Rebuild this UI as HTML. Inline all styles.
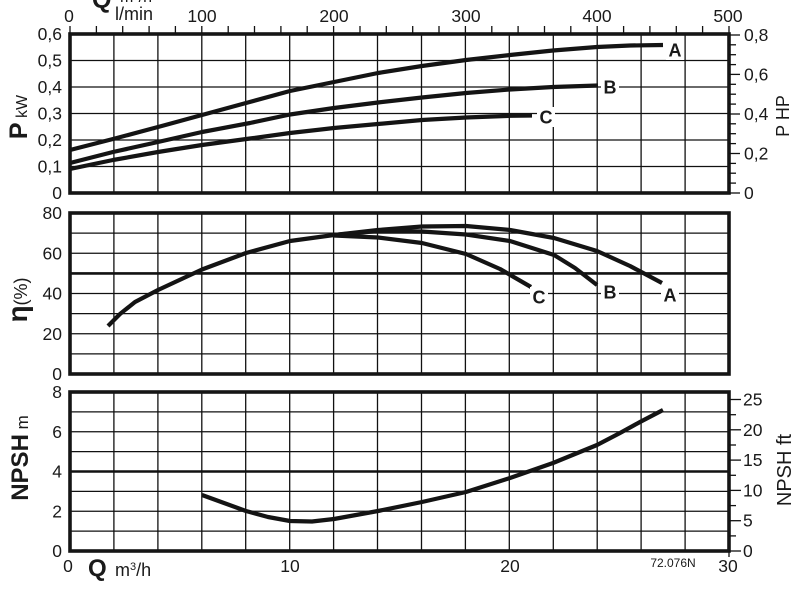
<!DOCTYPE html>
<html>
<head>
<meta charset="utf-8">
<style>
html,body{margin:0;padding:0;background:#fff;}
svg{display:block;}
text{font-family:"Liberation Sans",Arial,sans-serif;fill:#1a1a1a;}
.t{font-size:17.5px;}
.lb{font-size:18px;font-weight:bold;}
</style>
</head>
<body>
<svg width="809" height="590" viewBox="0 0 809 590" xmlns="http://www.w3.org/2000/svg">
<rect x="0" y="0" width="809" height="590" fill="#fff"/>

<g stroke="#111" stroke-width="1.3">
  <line x1="113.9" y1="34" x2="113.9" y2="193"/><line x1="157.9" y1="34" x2="157.9" y2="193"/>
  <line x1="201.8" y1="34" x2="201.8" y2="193"/><line x1="245.7" y1="34" x2="245.7" y2="193"/>
  <line x1="289.7" y1="34" x2="289.7" y2="193"/><line x1="333.6" y1="34" x2="333.6" y2="193"/>
  <line x1="377.5" y1="34" x2="377.5" y2="193"/><line x1="421.5" y1="34" x2="421.5" y2="193"/>
  <line x1="465.4" y1="34" x2="465.4" y2="193"/><line x1="509.3" y1="34" x2="509.3" y2="193"/>
  <line x1="553.3" y1="34" x2="553.3" y2="193"/><line x1="597.2" y1="34" x2="597.2" y2="193"/>
  <line x1="641.1" y1="34" x2="641.1" y2="193"/><line x1="685.1" y1="34" x2="685.1" y2="193"/>
  <line x1="70" y1="166.5" x2="729" y2="166.5"/><line x1="70" y1="140" x2="729" y2="140"/>
  <line x1="70" y1="113.5" x2="729" y2="113.5"/><line x1="70" y1="87" x2="729" y2="87"/>
  <line x1="70" y1="60.5" x2="729" y2="60.5"/>

  <line x1="113.9" y1="213" x2="113.9" y2="374"/><line x1="157.9" y1="213" x2="157.9" y2="374"/>
  <line x1="201.8" y1="213" x2="201.8" y2="374"/><line x1="245.7" y1="213" x2="245.7" y2="374"/>
  <line x1="289.7" y1="213" x2="289.7" y2="374"/><line x1="333.6" y1="213" x2="333.6" y2="374"/>
  <line x1="377.5" y1="213" x2="377.5" y2="374"/><line x1="421.5" y1="213" x2="421.5" y2="374"/>
  <line x1="465.4" y1="213" x2="465.4" y2="374"/><line x1="509.3" y1="213" x2="509.3" y2="374"/>
  <line x1="553.3" y1="213" x2="553.3" y2="374"/><line x1="597.2" y1="213" x2="597.2" y2="374"/>
  <line x1="641.1" y1="213" x2="641.1" y2="374"/><line x1="685.1" y1="213" x2="685.1" y2="374"/>
  <line x1="70" y1="353.9" x2="729" y2="353.9"/><line x1="70" y1="333.75" x2="729" y2="333.75"/>
  <line x1="70" y1="313.6" x2="729" y2="313.6"/><line x1="70" y1="293.5" x2="729" y2="293.5"/>
  <line x1="70" y1="253.25" x2="729" y2="253.25"/>
  <line x1="70" y1="233.1" x2="729" y2="233.1"/>

  <line x1="113.9" y1="392" x2="113.9" y2="551"/><line x1="157.9" y1="392" x2="157.9" y2="551"/>
  <line x1="201.8" y1="392" x2="201.8" y2="551"/><line x1="245.7" y1="392" x2="245.7" y2="551"/>
  <line x1="289.7" y1="392" x2="289.7" y2="551"/><line x1="333.6" y1="392" x2="333.6" y2="551"/>
  <line x1="377.5" y1="392" x2="377.5" y2="551"/><line x1="421.5" y1="392" x2="421.5" y2="551"/>
  <line x1="465.4" y1="392" x2="465.4" y2="551"/><line x1="509.3" y1="392" x2="509.3" y2="551"/>
  <line x1="553.3" y1="392" x2="553.3" y2="551"/><line x1="597.2" y1="392" x2="597.2" y2="551"/>
  <line x1="641.1" y1="392" x2="641.1" y2="551"/><line x1="685.1" y1="392" x2="685.1" y2="551"/>
  <line x1="70" y1="531.1" x2="729" y2="531.1"/><line x1="70" y1="511.25" x2="729" y2="511.25"/>
  <line x1="70" y1="491.4" x2="729" y2="491.4"/>
  <line x1="70" y1="451.6" x2="729" y2="451.6"/><line x1="70" y1="431.75" x2="729" y2="431.75"/>
  <line x1="70" y1="411.9" x2="729" y2="411.9"/>
</g>
<line x1="70" y1="273.4" x2="729" y2="273.4" stroke="#111" stroke-width="2.6"/>
<line x1="70" y1="471.5" x2="729" y2="471.5" stroke="#111" stroke-width="2.6"/>

<g fill="none" stroke="#151515" stroke-width="3.6">
  <rect x="70" y="34" width="659" height="159"/>
  <rect x="70" y="213" width="659" height="161"/>
  <rect x="70" y="392" width="659" height="159"/>
</g>

<g stroke="#111" stroke-width="1.3">
  <line x1="70" y1="26" x2="70" y2="34"/><line x1="96.4" y1="26" x2="96.4" y2="34"/>
  <line x1="122.7" y1="26" x2="122.7" y2="34"/><line x1="149.1" y1="26" x2="149.1" y2="34"/>
  <line x1="175.4" y1="26" x2="175.4" y2="34"/><line x1="201.8" y1="26" x2="201.8" y2="34"/>
  <line x1="228.2" y1="26" x2="228.2" y2="34"/><line x1="254.5" y1="26" x2="254.5" y2="34"/>
  <line x1="280.9" y1="26" x2="280.9" y2="34"/><line x1="307.2" y1="26" x2="307.2" y2="34"/>
  <line x1="333.6" y1="26" x2="333.6" y2="34"/><line x1="360" y1="26" x2="360" y2="34"/>
  <line x1="386.3" y1="26" x2="386.3" y2="34"/><line x1="412.7" y1="26" x2="412.7" y2="34"/>
  <line x1="439" y1="26" x2="439" y2="34"/><line x1="465.4" y1="26" x2="465.4" y2="34"/>
  <line x1="491.8" y1="26" x2="491.8" y2="34"/><line x1="518.1" y1="26" x2="518.1" y2="34"/>
  <line x1="544.5" y1="26" x2="544.5" y2="34"/><line x1="570.8" y1="26" x2="570.8" y2="34"/>
  <line x1="597.2" y1="26" x2="597.2" y2="34"/><line x1="623.6" y1="26" x2="623.6" y2="34"/>
  <line x1="649.9" y1="26" x2="649.9" y2="34"/><line x1="676.3" y1="26" x2="676.3" y2="34"/>
  <line x1="702.6" y1="26" x2="702.6" y2="34"/><line x1="729" y1="26" x2="729" y2="34"/>
</g>

<g stroke="#111" stroke-width="1.3">
  <line x1="729" y1="193" x2="740" y2="193"/><line x1="729" y1="183.1" x2="736" y2="183.1"/>
  <line x1="729" y1="173.2" x2="736" y2="173.2"/><line x1="729" y1="163.4" x2="736" y2="163.4"/>
  <line x1="729" y1="153.5" x2="740" y2="153.5"/><line x1="729" y1="143.6" x2="736" y2="143.6"/>
  <line x1="729" y1="133.7" x2="736" y2="133.7"/><line x1="729" y1="123.8" x2="736" y2="123.8"/>
  <line x1="729" y1="114" x2="740" y2="114"/><line x1="729" y1="104.1" x2="736" y2="104.1"/>
  <line x1="729" y1="94.2" x2="736" y2="94.2"/><line x1="729" y1="84.3" x2="736" y2="84.3"/>
  <line x1="729" y1="74.4" x2="740" y2="74.4"/><line x1="729" y1="64.6" x2="736" y2="64.6"/>
  <line x1="729" y1="54.7" x2="736" y2="54.7"/><line x1="729" y1="44.8" x2="736" y2="44.8"/>
  <line x1="729" y1="35" x2="740" y2="35"/>
</g>

<g stroke="#111" stroke-width="1.3">
  <line x1="729" y1="551" x2="741" y2="551"/><line x1="729" y1="535.9" x2="736" y2="535.9"/>
  <line x1="729" y1="520.7" x2="741" y2="520.7"/><line x1="729" y1="505.6" x2="736" y2="505.6"/>
  <line x1="729" y1="490.4" x2="741" y2="490.4"/><line x1="729" y1="475.3" x2="736" y2="475.3"/>
  <line x1="729" y1="460.1" x2="741" y2="460.1"/><line x1="729" y1="445" x2="736" y2="445"/>
  <line x1="729" y1="429.8" x2="741" y2="429.8"/><line x1="729" y1="414.7" x2="736" y2="414.7"/>
  <line x1="729" y1="399.5" x2="741" y2="399.5"/>
</g>
<line x1="729" y1="551" x2="729" y2="557" stroke="#111" stroke-width="1.3"/>

<g fill="none" stroke="#141414" stroke-width="4.2" stroke-linejoin="round" stroke-linecap="butt">
  <polyline points="70,150 113,139 158,127 202,115 246,103 290,91 334,82 378,73 422,66 466,60 510,55 553,50.5 597,47 630,45.5 663,45"/>
  <polyline points="70,163 113,152 158,142 202,132 250,123 290,114.5 334,108 378,102.5 422,97.5 466,93 510,89.5 553,87 598,85.5"/>
  <polyline points="70,169 113,160 158,152 202,145 250,138.5 290,133 334,128 378,124 422,120 466,117.5 510,115.8 532,115.5"/>
  <polyline points="108,326 120,314 135,302 158,290 202,269.5 246,253 290,241 334,235 378,230 422,226.5 466,226 510,230 554,238 597,251 630,266 662,283"/>
  <polyline points="334,235 378,231 422,231.5 466,234.5 510,241 554,255 575,268 597,285"/>
  <polyline points="334,235.5 378,237.5 422,243 466,254 500,269 531,287"/>
  <polyline points="202,495 224,503 246,511 268,517 290,521 312,521.5 334,519 356,515 378,511 422,502 466,492 510,478 553,463 597,445 620,433 640,422 663,410"/>
</g>

<g fill="#fff">
  <rect x="666" y="40" width="18" height="20"/>
  <rect x="601" y="77" width="18" height="20"/>
  <rect x="537" y="107" width="18" height="20"/>
  <rect x="530" y="287" width="18" height="20"/>
  <rect x="601" y="282" width="18" height="20"/>
  <rect x="661" y="285" width="18" height="20"/>
</g>
<text class="lb" x="675" y="56.5" text-anchor="middle">A</text>
<text class="lb" x="610" y="93.5" text-anchor="middle">B</text>
<text class="lb" x="546" y="123.5" text-anchor="middle">C</text>
<text class="lb" x="539" y="303.5" text-anchor="middle">C</text>
<text class="lb" x="610" y="298.5" text-anchor="middle">B</text>
<text class="lb" x="670" y="301.5" text-anchor="middle">A</text>

<g class="t" text-anchor="end">
  <text x="62" y="40">0,6</text>
  <text x="62" y="66.5">0,5</text>
  <text x="62" y="93">0,4</text>
  <text x="62" y="119.5">0,3</text>
  <text x="62" y="146">0,2</text>
  <text x="62" y="172.5">0,1</text>
  <text x="62" y="199">0</text>

  <text x="62" y="219">80</text>
  <text x="62" y="259.3">60</text>
  <text x="62" y="299.5">40</text>
  <text x="62" y="339.8">20</text>
  <text x="62" y="380">0</text>

  <text x="62" y="398">8</text>
  <text x="62" y="437.8">6</text>
  <text x="62" y="477.5">4</text>
  <text x="62" y="517.3">2</text>
  <text x="62" y="557">0</text>
</g>

<g class="t">
  <text x="744" y="41">0,8</text>
  <text x="744" y="80.4">0,6</text>
  <text x="744" y="120">0,4</text>
  <text x="744" y="159.5">0,2</text>
  <text x="744" y="199">0</text>

  <text x="743" y="405.5">25</text>
  <text x="743" y="435.8">20</text>
  <text x="743" y="466">15</text>
  <text x="743" y="496.4">10</text>
  <text x="743" y="526.7">5</text>
  <text x="743" y="557">0</text>
</g>

<g class="t" text-anchor="middle">
  <text x="69" y="22">0</text>
  <text x="202" y="22">100</text>
  <text x="334" y="22">200</text>
  <text x="466" y="22">300</text>
  <text x="597" y="22">400</text>
  <text x="728" y="22">500</text>
</g>
<text x="92" y="8" style="font-size:25px;font-weight:bold;">Q</text>
<text x="120" y="2" style="font-size:16px;">m³/h</text>
<text x="115" y="20" style="font-size:18px;">l/min</text>

<g class="t" text-anchor="middle">
  <text x="68" y="572">0</text>
  <text x="290" y="572">10</text>
  <text x="510" y="572">20</text>
  <text x="728" y="572">30</text>
</g>
<text x="88" y="576" style="font-size:24px;font-weight:bold;">Q</text>
<text x="115" y="576" style="font-size:18px;">m<tspan style="font-size:11px" dy="-6">3</tspan><tspan dy="6">/h</tspan></text>
<text x="673" y="567" text-anchor="middle" style="font-size:12px;">72.076N</text>

<text transform="translate(27,117) rotate(-90)" text-anchor="middle"><tspan style="font-size:25px;font-weight:bold;">P</tspan><tspan style="font-size:16px;"> kW</tspan></text>
<text transform="translate(27,300) rotate(-90)" text-anchor="middle"><tspan style="font-size:28px;font-weight:bold;">η</tspan><tspan style="font-size:18px;">(%)</tspan></text>
<text transform="translate(28,458) rotate(-90)" text-anchor="middle"><tspan style="font-size:24px;font-weight:bold;">NPSH</tspan><tspan style="font-size:17px;"> m</tspan></text>
<text transform="translate(789,116) rotate(-90)" text-anchor="middle" style="font-size:18px;">P HP</text>
<text transform="translate(791,470) rotate(-90)" text-anchor="middle" style="font-size:20px;">NPSH ft</text>
</svg>
</body>
</html>
